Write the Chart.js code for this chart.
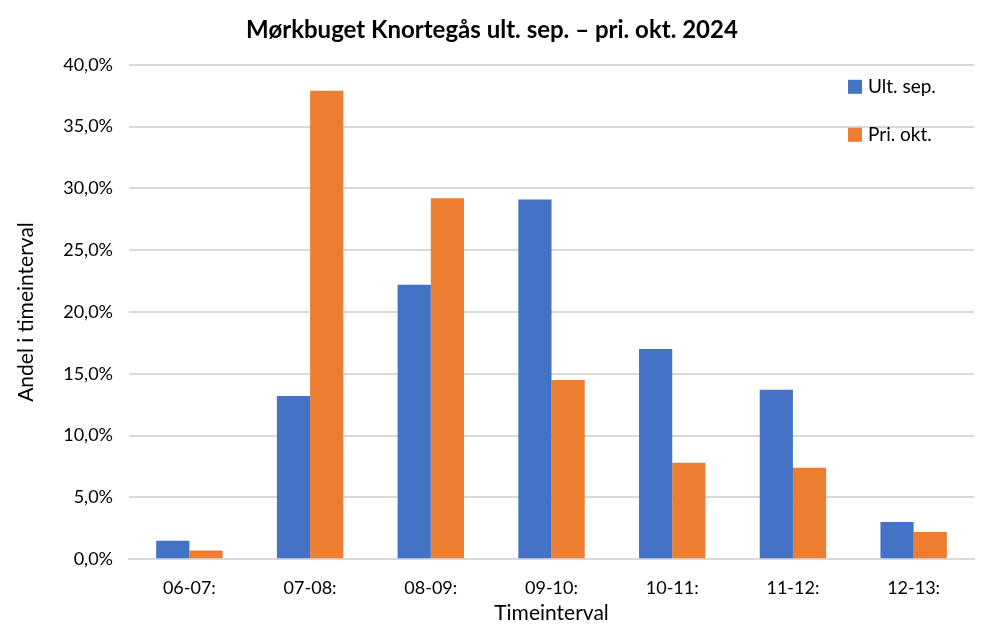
<!DOCTYPE html>
<html><head><meta charset="utf-8">
<script src="https://cdn.jsdelivr.net/npm/chart.js@4"></script>
<style>html,body{margin:0;padding:0;background:#fff}#w{width:992px;height:626px}</style>
</head><body><div id="w"><canvas id="c"></canvas></div>
<script>
const categories = ["06-07:", "07-08:", "08-09:", "09-10:", "10-11:", "11-12:", "12-13:"];
const ultSep = [1.5, 13.2, 22.2, 29.1, 17.0, 13.7, 3.0];
const priOkt = [0.7, 37.9, 29.2, 14.5, 7.8, 7.4, 2.2];
const seriesNames = ["Ult. sep.", "Pri. okt."];
const FONT = "Lato, 'Open Sans', sans-serif";

const legendPlugin = {
  id: 'inLegend',
  afterDraw(chart) {
    const ctx = chart.ctx, a = chart.chartArea;
    ctx.save();
    ctx.font = "19px " + FONT;
    ctx.textBaseline = 'middle';
    chart.data.datasets.forEach((ds, i) => {
      const y = a.top + 22 + i * 48, x = a.right - 126;
      ctx.fillStyle = ds.backgroundColor;
      ctx.fillRect(x, y - 7, 14, 14);
      ctx.fillStyle = '#000';
      ctx.fillText(ds.label, x + 20, y);
    });
    ctx.restore();
  }
};

new Chart(document.getElementById('c'), {
  type: 'bar',
  data: {
    labels: categories,
    datasets: [
      {label: seriesNames[0], data: ultSep, backgroundColor: '#4472C4'},
      {label: seriesNames[1], data: priOkt, backgroundColor: '#ED7D31'}
    ]
  },
  options: {
    responsive: true, maintainAspectRatio: false, animation: false,
    layout: {padding: {top: 12, right: 18, left: 10, bottom: 0}},
    datasets: {bar: {categoryPercentage: 0.55, barPercentage: 1}},
    plugins: {
      legend: {display: false},
      tooltip: {enabled: false},
      title: {display: true, text: 'Mørkbuget Knortegås ult. sep. – pri. okt. 2024',
        font: {family: FONT, size: 24, weight: 'bold'}, color: '#000', padding: {top: 4, bottom: 20}}
    },
    scales: {
      x: {
        grid: {display: false},
        border: {color: '#d9d9d9', width: 2},
        ticks: {font: {family: FONT, size: 18}, color: '#000', padding: 10},
        title: {display: true, text: 'Timeinterval', font: {family: FONT, size: 21}, color: '#000', padding: {top: -8, bottom: 0}}
      },
      y: {
        min: 0, max: 40,
        border: {display: false},
        grid: {color: '#d9d9d9', lineWidth: 2, drawTicks: false},
        ticks: {stepSize: 5, padding: 16, font: {family: FONT, size: 18}, color: '#000',
          callback: v => v.toFixed(1).replace('.', ',') + '%'},
        title: {display: true, text: 'Andel i timeinterval', font: {family: FONT, size: 21}, color: '#000', padding: {bottom: 8}}
      }
    }
  },
  plugins: [legendPlugin]
});
</script></body></html>
